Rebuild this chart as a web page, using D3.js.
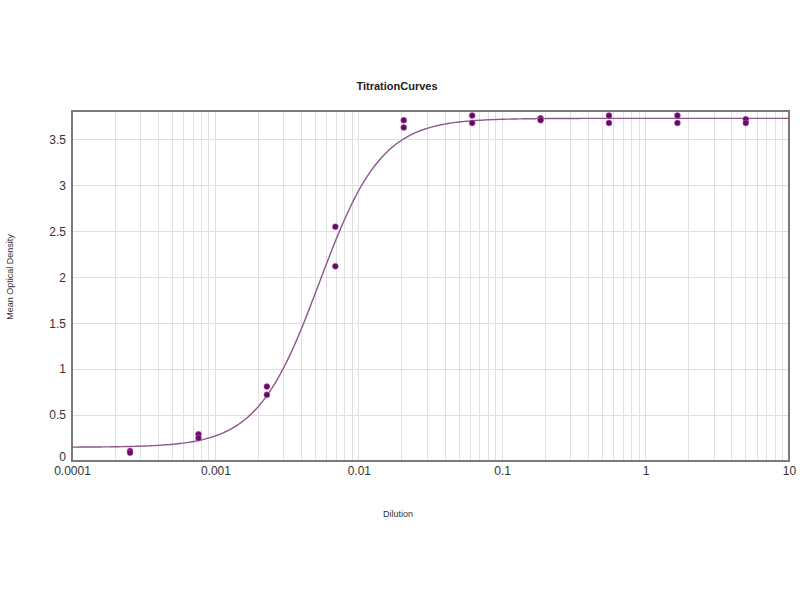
<!DOCTYPE html>
<html>
<head>
<meta charset="utf-8">
<script src="https://cdn.jsdelivr.net/npm/d3@7"></script>
<style>
  html, body { margin: 0; padding: 0; background: #fff; }
  svg { display: block; }
</style>
</head>
<body>
<svg id="chart" width="800" height="600"></svg>
<script>
// ---- data ----
const dilution = [5, 1.667, 0.5556, 0.1852, 0.06173, 0.02058, 0.006859, 0.002286, 0.000762, 0.000254];
const rep1 = [3.72, 3.76, 3.76, 3.73, 3.76, 3.71, 2.55, 0.81, 0.29, 0.11];
const rep2 = [3.68, 3.68, 3.68, 3.71, 3.68, 3.63, 2.12, 0.72, 0.25, 0.09];
// fitted 4-parameter logistic curve parameters
const fitBottom = 0.15, fitTop = 3.73, fitEC50 = 0.0053, fitHill = 2.0;
const xTickValues = [0.0001, 0.001, 0.01, 0.1, 1, 10];
const xTickLabels = ["0.0001", "0.001", "0.01", "0.1", "1", "10"];
const yTickValues = [0, 0.5, 1, 1.5, 2, 2.5, 3, 3.5];
const yTickLabels = ["0", "0.5", "1", "1.5", "2", "2.5", "3", "3.5"];
const title = "TitrationCurves";
const xTitle = "Dilution";
const yTitle = "Mean Optical Density";

const svg = d3.select("#chart");
const L = 72, R = 789, T = 111, B = 461;
const x = d3.scaleLog().domain([0.0001, 10]).range([L, R]);
const y = d3.scaleLinear().domain([0, 3.81]).range([B, T]);

// grid: vertical at every log minor step
const minor = [];
for (let e = -4; e < 1; e++) for (let m = 1; m <= 9; m++) minor.push(m * Math.pow(10, e));
svg.append("g").selectAll("line").data(minor.filter(v => v > 0.0001 && v < 10)).join("line")
  .attr("x1", d => x(d)).attr("x2", d => x(d)).attr("y1", T).attr("y2", B)
  .attr("stroke", "#e0e0e0").attr("stroke-width", 1).attr("shape-rendering", "crispEdges");
svg.append("g").selectAll("line").data(yTickValues.filter(v => v > 0)).join("line")
  .attr("x1", L).attr("x2", R).attr("y1", d => y(d)).attr("y2", d => y(d))
  .attr("stroke", "#e0e0e0").attr("stroke-width", 1).attr("shape-rendering", "crispEdges");

// frame
svg.append("rect").attr("x", L).attr("y", T).attr("width", R - L).attr("height", B - T)
  .attr("fill", "none").attr("stroke", "#7a7a7a").attr("stroke-width", 2);

// axes (labels only)
const xAxis = d3.axisBottom(x).tickValues(xTickValues).tickFormat((d, i) => xTickLabels[i]).tickSize(0).tickPadding(5);
const gx = svg.append("g").attr("transform", `translate(0,${B})`).call(xAxis);
gx.select(".domain").remove();
gx.selectAll("text").attr("font-family", "Liberation Sans, Arial, sans-serif").attr("font-size", 12).attr("fill", "#333");

const yAxis = d3.axisLeft(y).tickValues(yTickValues).tickFormat((d, i) => yTickLabels[i]).tickSize(0).tickPadding(6);
const gy = svg.append("g").attr("transform", `translate(${L},0)`).call(yAxis);
gy.select(".domain").remove();
gy.selectAll("text").attr("font-family", "Liberation Sans, Arial, sans-serif").attr("font-size", 12).attr("fill", "#333");
// lift the "0" label slightly so it does not collide with "0.0001"
gy.selectAll(".tick").filter(d => d === 0).select("text").attr("y", -4);

// fitted curve
const curveX = d3.range(0, 401).map(i => Math.pow(10, -4 + 5 * i / 400));
const fit = v => fitBottom + (fitTop - fitBottom) / (1 + Math.pow(fitEC50 / v, fitHill));
svg.append("path").datum(curveX)
  .attr("d", d3.line().x(d => x(d)).y(d => y(fit(d))))
  .attr("fill", "none").attr("stroke", "#8d568d").attr("stroke-width", 1.4);

// points
const pts = [];
dilution.forEach((d, i) => { pts.push([d, rep1[i]]); pts.push([d, rep2[i]]); });
svg.append("g").selectAll("circle").data(pts).join("circle")
  .attr("cx", d => x(d[0])).attr("cy", d => y(d[1])).attr("r", 3)
  .attr("fill", "#660a66").attr("stroke", "#c46ac4").attr("stroke-opacity", 0.5).attr("stroke-width", 1);

// titles
svg.append("text").attr("x", 397).attr("y", 90).attr("text-anchor", "middle")
  .attr("font-family", "Liberation Sans, Arial, sans-serif").attr("font-size", 11).attr("font-weight", "bold")
  .attr("fill", "#222").text(title);
svg.append("text").attr("x", 398).attr("y", 517).attr("text-anchor", "middle")
  .attr("font-family", "Liberation Sans, Arial, sans-serif").attr("font-size", 9)
  .attr("fill", "#333").text(xTitle);
svg.append("text").attr("transform", "translate(13,277) rotate(-90)").attr("text-anchor", "middle")
  .attr("font-family", "Liberation Sans, Arial, sans-serif").attr("font-size", 9)
  .attr("fill", "#333").text(yTitle);
</script>
</body>
</html>
